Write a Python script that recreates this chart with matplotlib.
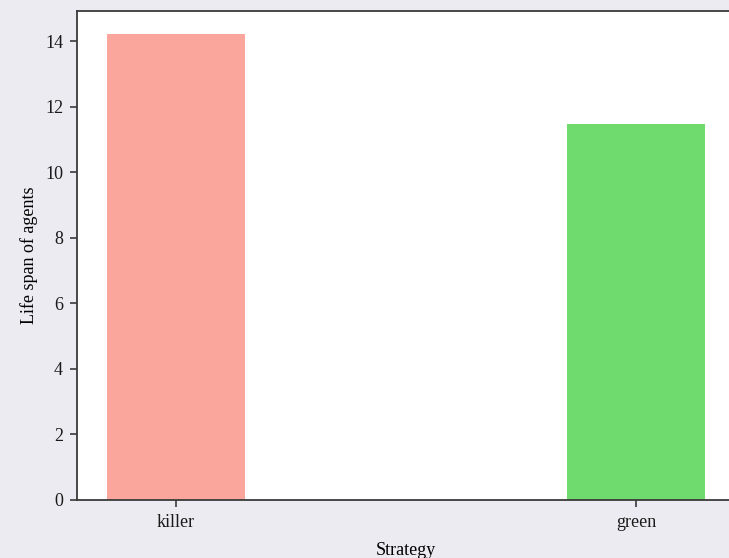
import matplotlib
matplotlib.use("Agg")
import matplotlib.pyplot as plt

# data
strategies = ["killer", "green"]
life_span = [14.21, 11.46]
bar_colors = ["salmon", "limegreen"]

plt.rcParams['font.family'] = ['Liberation Serif', 'DejaVu Serif']
plt.rcParams['font.size'] = 13

fig = plt.figure(figsize=(7.29, 5.58), dpi=100)
fig.patch.set_facecolor('#ebebf1')
# axes runs a little past the right edge of the picture, as in the reference
ax = fig.add_axes([77 / 729, 58 / 558, 658 / 729, 489 / 558])
ax.set_facecolor('white')

x = list(range(len(strategies)))
ax.bar(x, life_span, width=0.3, color=bar_colors, alpha=0.7)
ax.set_xticks(x)
ax.set_xticklabels(strategies)

ax.set_xlabel("Strategy", labelpad=8)
ax.set_ylabel("Life span of agents", labelpad=5)

for side in ['left', 'bottom', 'top', 'right']:
  ax.spines[side].set_color('#3a3a3a')
  ax.spines[side].set_linewidth(1.3)
ax.tick_params(length=5, width=1.2, color='#3a3a3a', labelcolor='#1a1a1a')
ax.tick_params(axis='x', pad=5)
ax.tick_params(axis='y', pad=5)

plt.savefig("out.png", dpi=100, facecolor=fig.get_facecolor())
